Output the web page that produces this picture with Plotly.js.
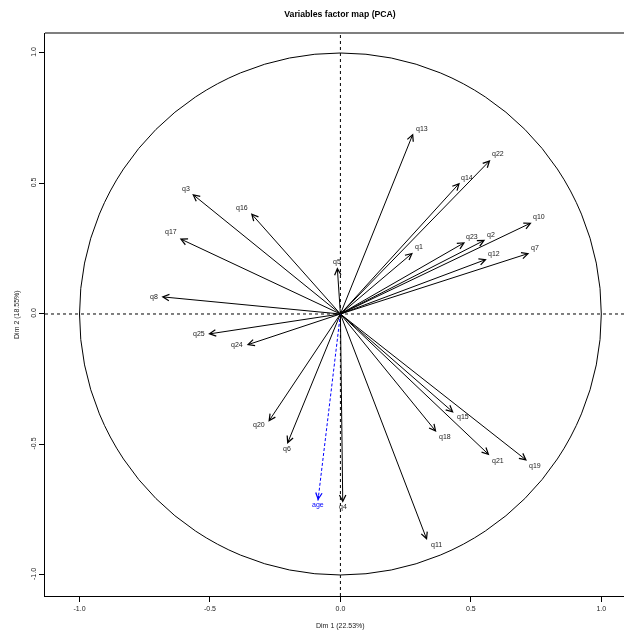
<!DOCTYPE html>
<html>
<head>
<meta charset="utf-8">
<script src="https://cdn.plot.ly/plotly-3.0.1.min.js"></script>
<style>
html,body{margin:0;padding:0;background:#fff;}
#chart{width:624px;height:635px;}
#chart svg{will-change:transform;}
#chart svg text{-webkit-font-smoothing:antialiased;}
</style>
</head>
<body>
<div id="chart"></div>
<script>
// Active variables: coordinates on Dim 1 and Dim 2
const varNames = ["q1","q2","q3","q4","q5","q6","q7","q8","q10","q11","q12","q13","q14","q15","q16","q17","q18","q19","q20","q21","q22","q23","q24","q25"];
const dim1 = [0.278,0.555,-0.568,0.009,-0.012,-0.204,0.724,-0.686,0.733,0.332,0.561,0.279,0.458,0.434,-0.343,-0.616,0.368,0.715,-0.276,0.571,0.575,0.478,-0.359,-0.507];
const dim2 = [0.235,0.284,0.460,-0.723,0.179,-0.498,0.233,0.066,0.350,-0.866,0.210,0.692,0.503,-0.378,0.386,0.289,-0.452,-0.562,-0.413,-0.541,0.590,0.275,-0.119,-0.077];
// Supplementary variable
const supNames = ["age"];
const supDim1 = [-0.086];
const supDim2 = [-0.715];
const tickVals = [-1, -0.5, 0, 0.5, 1];
const tickText = ["-1.0", "-0.5", "0.0", "0.5", "1.0"];

// label placement (pixel offsets from the arrow tip, screen coords)
const labelOffsets = {
  q1:[6,-6], q2:[5.7,-5.3], q3:[-6.6,-5.3], q4:[0,4], q5:[0,-5.6], q6:[0,5],
  q7:[5.7,-5.6], q8:[-7,0], q10:[7.3,-6], q11:[9.7,5.3], q12:[7.6,-5.6],
  q13:[8.4,-4.6], q14:[7.3,-4.7], q15:[9,4], q16:[-9,-5.6], q17:[-9,-6.4],
  q18:[8.7,4.7], q19:[8,5], q20:[-9,3.6], q21:[9,5.4], q22:[8,-5.7],
  q23:[7.3,-5.6], q24:[-9.4,0], q25:[-9.3,0], age:[0,4.3]
};

const FONT = "Liberation Sans, Arial, Helvetica, sans-serif";
const annotations = [];
const shapes = [
  {type: "circle", xref: "x", yref: "y", x0: -1, y0: -1, x1: 1, y1: 1,
   line: {color: "#000", width: 1}},
  {type: "line", xref: "paper", yref: "y", x0: 0, x1: 1, y0: 0, y1: 0,
   line: {color: "#000", width: 1, dash: "3px,3px"}},
  {type: "line", xref: "x", yref: "paper", x0: 0, x1: 0, y0: 0, y1: 1,
   line: {color: "#000", width: 1, dash: "3px,3px"}},
  {type: "line", xref: "paper", yref: "paper", x0: 0, x1: 1, y0: 1, y1: 1,
   line: {color: "#000", width: 1.2}}
];

function addArrow(name, x, y, color, dashed) {
  if (dashed) {
    // dashed shaft as a shape, only the head from an annotation
    shapes.push({type: "line", xref: "x", yref: "y", x0: 0, y0: 0, x1: x, y1: y,
      line: {color: color, width: 1, dash: "3px,2px"}});
    annotations.push({
      x: x, y: y, xref: "x", yref: "y",
      ax: x * 0.97, ay: y * 0.97, axref: "x", ayref: "y",
      text: " ", font: {size: 1}, borderpad: 0,
      showarrow: true, arrowhead: 5, arrowsize: 1.25, arrowwidth: 1,
      arrowcolor: color, standoff: 0, startstandoff: 0
    });
  } else {
    annotations.push({
      x: x, y: y, xref: "x", yref: "y",
      ax: 0, ay: 0, axref: "x", ayref: "y",
      text: " ", font: {size: 1}, borderpad: 0,
      showarrow: true, arrowhead: 5, arrowsize: 1.25, arrowwidth: 1,
      arrowcolor: color, standoff: 0, startstandoff: 0
    });
  }
  const off = labelOffsets[name] || [0, 0];
  annotations.push({
    x: x, y: y, xref: "x", yref: "y",
    text: name, showarrow: false,
    xanchor: "center", yanchor: "middle",
    xshift: off[0], yshift: -off[1],
    font: {family: FONT, size: 7, color: color === "#000000" ? "#1a1a1a" : color}
  });
}

varNames.forEach((n, i) => addArrow(n, dim1[i], dim2[i], "#000000", false));
supNames.forEach((n, i) => addArrow(n, supDim1[i], supDim2[i], "#0000ff", true));

// axis titles
annotations.push({
  x: 0, xref: "x", y: -0.0533, yref: "paper", xanchor: "center", yanchor: "middle",
  text: "Dim 1 (22.53%)", showarrow: false, font: {family: FONT, size: 7, color: "#1a1a1a"}
});
annotations.push({
  x: -0.0484, xref: "paper", y: 0, yref: "y", xanchor: "center", yanchor: "middle",
  text: "Dim 2 (18.55%)", textangle: -90, showarrow: false, font: {family: FONT, size: 7, color: "#1a1a1a"}
});

const traces = [
  {x: dim1, y: dim2, text: varNames, type: "scatter", mode: "markers",
   marker: {size: 1, opacity: 0}, hoverinfo: "text", showlegend: false},
  {x: supDim1, y: supDim2, text: supNames, type: "scatter", mode: "markers",
   marker: {size: 1, opacity: 0}, hoverinfo: "text", showlegend: false}
];

const layout = {
  width: 624, height: 635,
  margin: {l: 45, r: 0, t: 33, b: 39},
  paper_bgcolor: "#fff", plot_bgcolor: "#fff",
  title: {text: "<b>Variables factor map (PCA)</b>", x: 340 / 624, xanchor: "center",
          y: 1 - 14 / 635, yanchor: "middle", yref: "container",
          font: {family: FONT, size: 8.7, color: "#000"}},
  xaxis: {range: [-1.1323, 1.087], tickvals: tickVals, ticktext: tickText,
          ticks: "outside", ticklen: 5, tickwidth: 1, tickcolor: "#000",
          showline: true, linecolor: "#000", linewidth: 1.2, showgrid: false, zeroline: false,
          tickfont: {family: FONT, size: 7, color: "#222"}, fixedrange: true},
  yaxis: {range: [-1.0805, 1.0766], tickvals: tickVals, ticktext: tickText,
          ticks: "outside", ticklen: 5, tickwidth: 1, tickcolor: "#000", tickangle: -90,
          showline: true, linecolor: "#000", linewidth: 1.2, showgrid: false, zeroline: false,
          tickfont: {family: FONT, size: 7, color: "#222"}, fixedrange: true},
  shapes: shapes,
  annotations: annotations,
  showlegend: false
};

Plotly.newPlot("chart", traces, layout, {displayModeBar: false, staticPlot: true});
</script>
</body>
</html>
